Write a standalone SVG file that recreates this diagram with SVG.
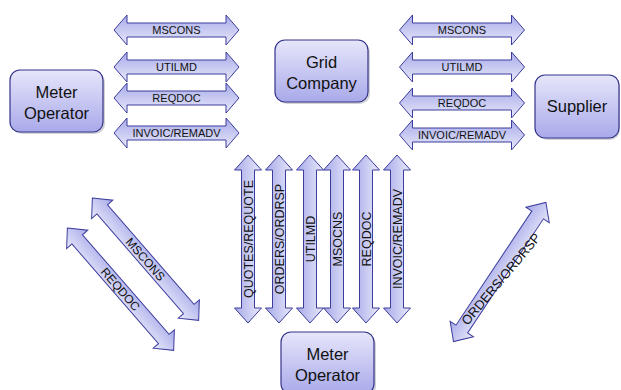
<svg xmlns="http://www.w3.org/2000/svg" xmlns:xlink="http://www.w3.org/1999/xlink" width="621" height="390" viewBox="0 0 621 390">
<defs>
  <linearGradient id="nodeGrad" x1="0" y1="0" x2="0" y2="1">
    <stop offset="0" stop-color="#e6e6fb"/>
    <stop offset="1" stop-color="#a9a9ea"/>
  </linearGradient>
  <linearGradient id="arrGrad" x1="0" y1="0" x2="0" y2="1">
    <stop offset="0" stop-color="#a7aae8"/>
    <stop offset="1" stop-color="#e8e9fb"/>
  </linearGradient>
  <path id="harrow" d="M-62.5,0 L-49.5,-15 L-49.5,-7 L49.5,-7 L49.5,-15 L62.5,0 L49.5,15 L49.5,7 L-49.5,7 L-49.5,15 Z"/>
  <path id="varrow" d="M-84,0 L-69,-13.5 L-69,-6.5 L69,-6.5 L69,-13.5 L84,0 L69,13.5 L69,6.5 L-69,6.5 L-69,13.5 Z"/>
  <path id="darrow" d="M-81,0 L-66,-14 L-66,-7 L66,-7 L66,-14 L81,0 L66,14 L66,7 L-66,7 L-66,14 Z"/>
  <path id="darrow2" d="M-83.5,0 L-68.5,-14 L-68.5,-7 L68.5,-7 L68.5,-14 L83.5,0 L68.5,14 L68.5,7 L-68.5,7 L-68.5,14 Z"/>
</defs>
<style>
  .node rect.box { fill: url(#nodeGrad); stroke: #34348a; stroke-width: 1.2; }
  .node rect.shadow { fill: #9a9aa8; opacity: 0.45; }
  .node text { font-family: "Liberation Sans", Arial, sans-serif; font-size: 16.5px; fill: #111; text-anchor: middle; }
  .arr { fill: url(#arrGrad); stroke: #3c3c9c; stroke-width: 1; }
  .lbl { font-family: "Liberation Sans", Arial, sans-serif; fill: #111; text-anchor: middle; }
  .h { font-size: 11px; }
  .v { font-size: 12.5px; }
  .d { font-size: 12px; }
  .d2 { font-size: 13px; }
</style>

<g id="connectors">
  <g transform="translate(176.5,30)"><use xlink:href="#harrow" class="arr"/><text class="lbl h" y="4">MSCONS</text></g>
  <g transform="translate(176.5,67)"><use xlink:href="#harrow" class="arr"/><text class="lbl h" y="4">UTILMD</text></g>
  <g transform="translate(176.5,98)"><use xlink:href="#harrow" class="arr"/><text class="lbl h" y="4">REQDOC</text></g>
  <g transform="translate(176.5,133)"><use xlink:href="#harrow" class="arr"/><text class="lbl h" y="4">INVOIC/REMADV</text></g>
  <g transform="translate(462,30)"><use xlink:href="#harrow" class="arr"/><text class="lbl h" y="4">MSCONS</text></g>
  <g transform="translate(462,67)"><use xlink:href="#harrow" class="arr"/><text class="lbl h" y="4">UTILMD</text></g>
  <g transform="translate(462,103)"><use xlink:href="#harrow" class="arr"/><text class="lbl h" y="4">REQDOC</text></g>
  <g transform="translate(462,135)"><use xlink:href="#harrow" class="arr"/><text class="lbl h" y="4">INVOIC/REMADV</text></g>
  <g transform="translate(248,239) rotate(-90)"><use xlink:href="#varrow" class="arr"/><text class="lbl v" y="4.5">QUOTES/REQUOTE</text></g>
  <g transform="translate(279,239) rotate(-90)"><use xlink:href="#varrow" class="arr"/><text class="lbl v" y="4.5">ORDERS/ORDRSP</text></g>
  <g transform="translate(310,239) rotate(-90)"><use xlink:href="#varrow" class="arr"/><text class="lbl v" y="4.5">UTILMD</text></g>
  <g transform="translate(337,239) rotate(-90)"><use xlink:href="#varrow" class="arr"/><text class="lbl v" y="4.5">MSOCNS</text></g>
  <g transform="translate(366,239) rotate(-90)"><use xlink:href="#varrow" class="arr"/><text class="lbl v" y="4.5">REQDOC</text></g>
  <g transform="translate(397,239) rotate(-90)"><use xlink:href="#varrow" class="arr"/><text class="lbl v" y="4.5">INVOIC/REMADV</text></g>
  <g transform="translate(145.5,259.2) rotate(49)"><use xlink:href="#darrow" class="arr"/><text class="lbl d" y="4.3">MSCONS</text></g>
  <g transform="translate(120.5,289.2) rotate(49)"><use xlink:href="#darrow" class="arr"/><text class="lbl d" y="4.3">REQDOC</text></g>
  <g transform="translate(499.7,272) rotate(-56.4)"><use xlink:href="#darrow2" class="arr"/></g>
  <text class="lbl d2" transform="translate(501,279) rotate(-50)" y="4.6">ORDERS/ORDRSP</text>
</g>

<g id="meter-operator-left" class="node">
  <rect class="shadow" x="12" y="72" width="93" height="62" rx="10"/>
  <rect class="box" x="10" y="70" width="93" height="62" rx="10"/>
  <text x="56.5" y="98">Meter</text>
  <text x="56.5" y="119">Operator</text>
</g>
<g id="grid-company" class="node">
  <rect class="shadow" x="277" y="42" width="93" height="62" rx="10"/>
  <rect class="box" x="275" y="40" width="93" height="62" rx="10"/>
  <text x="321.5" y="68">Grid</text>
  <text x="321.5" y="89">Company</text>
</g>
<g id="supplier" class="node">
  <rect class="shadow" x="537" y="77" width="83" height="63" rx="10"/>
  <rect class="box" x="535" y="75" width="84" height="63" rx="10"/>
  <text x="577" y="112">Supplier</text>
</g>
<g id="meter-operator-bottom" class="node">
  <rect class="shadow" x="283" y="334" width="93" height="62" rx="10"/>
  <rect class="box" x="281" y="332" width="93" height="62" rx="10"/>
  <text x="327.5" y="360">Meter</text>
  <text x="327.5" y="381">Operator</text>
</g>
</svg>
